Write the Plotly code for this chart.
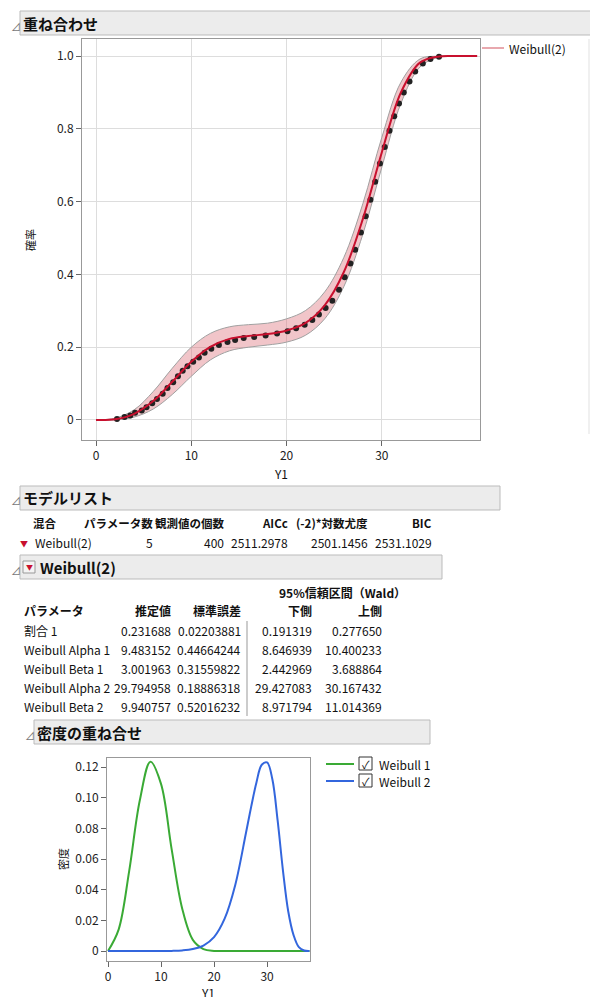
import plotly.graph_objects as go

W, H = 598, 997
JP = "Noto Sans CJK JP"

# --- data ---
cdf_x = [0, 2, 4, 6, 8, 10, 12, 14, 16, 18, 20, 22, 24, 26, 28, 30, 32, 34, 36, 38, 40]
cdf_y = [0, 0.002, 0.017, 0.052, 0.105, 0.160, 0.201, 0.223, 0.231, 0.236, 0.246, 0.267,
         0.315, 0.406, 0.552, 0.736, 0.900, 0.982, 0.999, 1.0, 1.0]
band_lo = [0, 0.0, 0.008, 0.030, 0.070, 0.120, 0.165, 0.190, 0.200, 0.206, 0.214, 0.233,
           0.278, 0.366, 0.510, 0.695, 0.870, 0.970, 0.997, 1.0, 1.0]
band_hi = [0, 0.005, 0.028, 0.078, 0.142, 0.200, 0.238, 0.256, 0.262, 0.266, 0.278, 0.301,
           0.352, 0.446, 0.594, 0.777, 0.928, 0.992, 1.0, 1.0, 1.0]
pts_x = [2.2, 3.0, 3.6, 4.1, 4.8, 5.3, 5.9, 6.4, 7.0, 7.5, 8.1, 8.6, 9.1, 9.6, 10.2, 10.8,
         11.4, 12.1, 12.9, 13.8, 14.6, 15.5, 16.6, 17.8, 19.0, 20.1, 21.0, 21.9, 22.7, 23.4,
         24.1, 24.8, 25.5, 26.1, 26.7, 27.2, 27.8, 28.3, 28.8, 29.3, 29.8, 30.3, 30.8, 31.3,
         31.8, 32.3, 32.9, 33.5, 34.3, 35.1, 36.0]
pts_y = [0.003, 0.008, 0.012, 0.020, 0.026, 0.035, 0.046, 0.058, 0.072, 0.088, 0.104, 0.120,
         0.135, 0.148, 0.160, 0.172, 0.185, 0.196, 0.206, 0.214, 0.220, 0.225, 0.228, 0.232,
         0.238, 0.244, 0.252, 0.262, 0.275, 0.290, 0.308, 0.328, 0.358, 0.392, 0.430, 0.468,
         0.515, 0.560, 0.605, 0.655, 0.705, 0.750, 0.795, 0.835, 0.870, 0.900, 0.930, 0.958,
         0.980, 0.992, 0.998]

dens_x = [0, 2, 4, 6, 8, 10, 12, 14, 16, 18, 20, 22, 24, 26, 27, 28, 29, 30, 31, 32, 33,
          34, 35, 36, 37, 38]
dens_w1 = [0, 0.0140, 0.0523, 0.0983, 0.1235, 0.109, 0.0665, 0.0276, 0.0073, 0.0013, 0.0001,
           0, 0, 0, 0, 0, 0, 0, 0, 0, 0, 0, 0, 0, 0, 0]
dens_w2 = [0, 0, 0, 0, 0, 0, 0.0001, 0.0004, 0.0013, 0.0036, 0.0091, 0.0211, 0.0431, 0.0767,
           0.094, 0.110, 0.1215, 0.123, 0.112, 0.085, 0.0525, 0.0258, 0.0104, 0.0025,
           0.0003, 0]

model_cols = ["混合", "パラメータ数", "観測値の個数", "AICc", "(-2)*対数尤度", "BIC"]
model_row = ["Weibull(2)", "5", "400", "2511.2978", "2501.1456", "2531.1029"]
param_cols = ["パラメータ", "推定値", "標準誤差", "下側", "上側"]
param_names = ["割合 1", "Weibull Alpha 1", "Weibull Beta 1", "Weibull Alpha 2", "Weibull Beta 2"]
est = ["0.231688", "9.483152", "3.001963", "29.794958", "9.940757"]
se = ["0.02203881", "0.44664244", "0.31559822", "0.18886318", "0.52016232"]
lower = ["0.191319", "8.646939", "2.442969", "29.427083", "8.971794"]
upper = ["0.277650", "10.400233", "3.688864", "30.167432", "11.014369"]


def px(x):
    return x / W


def py(y):
    return 1 - y / H


fig = go.Figure()

# top chart
fig.add_trace(go.Scatter(x=cdf_x, y=band_hi, mode="lines", line=dict(color="#a0a0a0", width=1, shape="spline"),
                         showlegend=False, hoverinfo="skip"))
fig.add_trace(go.Scatter(x=cdf_x, y=band_lo, mode="lines", fill="tonexty", fillcolor="rgba(220,110,120,0.4)",
                         line=dict(color="#a0a0a0", width=1, shape="spline"), showlegend=False, hoverinfo="skip"))
fig.add_trace(go.Scatter(x=pts_x, y=pts_y, mode="markers", marker=dict(color="#222", size=6),
                         showlegend=False))
fig.add_trace(go.Scatter(x=cdf_x, y=cdf_y, mode="lines", line=dict(color="#c8102e", width=2, shape="spline"),
                         showlegend=False))

# bottom chart
fig.add_trace(go.Scatter(x=dens_x, y=dens_w1, mode="lines", line=dict(color="#3aaa35", width=2, shape="spline"),
                         xaxis="x2", yaxis="y2", showlegend=False))
fig.add_trace(go.Scatter(x=dens_x, y=dens_w2, mode="lines", line=dict(color="#3366dd", width=2, shape="spline"),
                         xaxis="x2", yaxis="y2", showlegend=False))

axstyle = dict(showline=True, linecolor="#999", mirror=True, ticks="outside", tickcolor="#666",
               ticklen=5, zeroline=False, automargin=False,
               tickfont=dict(family=JP, size=12, color="#222"))
fig.update_layout(
    width=W, height=H, margin=dict(l=0, r=0, t=0, b=0, autoexpand=False),
    paper_bgcolor="white", plot_bgcolor="white",
    xaxis=dict(domain=[px(74), px(472)], range=[-1.47, 40.3], tickvals=[0, 10, 20, 30],
               showgrid=True, gridcolor="#ddd", anchor="y", **axstyle),
    yaxis=dict(domain=[py(432), py(31)], range=[-0.055, 1.047], tickvals=[0, 0.2, 0.4, 0.6, 0.8, 1.0],
               ticktext=["0", "0.2", "0.4", "0.6", "0.8", "1.0"], showgrid=True, gridcolor="#ddd",
               anchor="x", **axstyle),
    xaxis2=dict(domain=[px(99), px(302)], range=[-0.19, 38.1], tickvals=[0, 10, 20, 30],
                showgrid=False, anchor="y2", **axstyle),
    yaxis2=dict(domain=[py(953), py(750)], range=[-0.0065, 0.1259],
                tickvals=[0, 0.02, 0.04, 0.06, 0.08, 0.10, 0.12],
                ticktext=["0", "0.02", "0.04", "0.06", "0.08", "0.10", "0.12"],
                showgrid=False, anchor="x2", **axstyle),
)

shapes = []
ann = []


def text(x, y, s, size=12, bold=False, anchor="left", color="#111", angle=0):
    ann.append(dict(x=px(x), y=py(y), xref="paper", yref="paper", text=f"<b>{s}</b>" if bold else s,
                    showarrow=False, xanchor=anchor, yanchor="middle", textangle=angle,
                    font=dict(family=JP, size=size, color=color)))


def header(x0, y0, x1, y1, s, tri_x, tx=None):
    shapes.append(dict(type="rect", xref="paper", yref="paper", x0=px(x0), x1=px(x1), y0=py(y1), y1=py(y0),
                       fillcolor="#ececec", line=dict(color="#bbb", width=1)))
    text(tri_x, (y0 + y1) / 2 + 3, "⊿", size=10, color="#777")
    text(tx if tx else x0 + 1, (y0 + y1) / 2, s, size=15, bold=True)


header(12, 3, 596, 27, "重ね合わせ", 1)
header(12, 478, 492, 502, "モデルリスト", 1)
header(12, 547, 434, 571, "Weibull(2)", 1, tx=30)
header(26, 712, 422, 736, "密度の重ね合せ", 15)

# red dropdown button in Weibull(2) header
shapes.append(dict(type="rect", xref="paper", yref="paper", x0=px(15), x1=px(27), y0=py(565), y1=py(553),
                   fillcolor="#f4f4f4", line=dict(color="#999", width=1)))
text(21, 559, "▼", size=7, anchor="center", color="#c8102e")

# top legend + scrollbar
shapes.append(dict(type="line", xref="paper", yref="paper", x0=px(474), x1=px(496), y0=py(40), y1=py(40),
                   line=dict(color="#e8a8ae", width=2)))
text(499, 40, "Weibull(2)", size=12)
shapes.append(dict(type="rect", xref="paper", yref="paper", x0=px(580), x1=px(597), y0=py(426), y1=py(31),
                   fillcolor="#f0f0f0", line=dict(width=0)))
text(588, 38, "^", size=10, anchor="center", color="#bbb")

text(22, 232, "確率", size=11, anchor="center", angle=-90)
text(273, 466, "Y1", size=12, anchor="center")
text(55, 851, "密度", size=11, anchor="center", angle=-90)
text(200, 984, "Y1", size=12, anchor="center")

# model list table
mx = [23, 147, 218, 282, 362, 426]
for i, c in enumerate(model_cols):
    text(mx[i], 515, c, size=11.5, bold=True, anchor="left" if i == 0 else "right")
text(16, 535, "▼", size=8, anchor="center", color="#c8102e")
for i, v in enumerate(model_row):
    text(25 if i == 0 else mx[i], 534, v, size=12, anchor="left" if i == 0 else "right")

# parameter table
text(334, 584, "95%信頼区間（Wald）", size=12, bold=True, anchor="center")
cx = [14, 165, 235, 306, 376]
for i, c in enumerate(param_cols):
    text(cx[i], 602, c, size=12, bold=True, anchor="left" if i == 0 else "right")
rows_y = [622, 641, 660, 679, 698]
for j in range(len(param_names)):
    text(14, rows_y[j], param_names[j], size=12)
    for i, col in enumerate([est, se, lower, upper], start=1):
        text(cx[i], rows_y[j], col[j], size=12, anchor="right")
shapes.append(dict(type="line", xref="paper", yref="paper", x0=px(239), x1=px(239), y0=py(708), y1=py(613),
                   line=dict(color="#999", width=1)))

# density legend
for yy, col, name in [(756, "#3aaa35", "Weibull 1"), (773, "#3366dd", "Weibull 2")]:
    shapes.append(dict(type="line", xref="paper", yref="paper", x0=px(318), x1=px(346), y0=py(yy), y1=py(yy),
                       line=dict(color=col, width=2)))
    shapes.append(dict(type="rect", xref="paper", yref="paper", x0=px(351), x1=px(364), y0=py(yy + 6),
                       y1=py(yy - 7), fillcolor="white", line=dict(color="#333", width=1)))
    text(357.5, yy, "✓", size=11, anchor="center")
    text(369, yy, name, size=12)

fig.update_layout(shapes=shapes, annotations=ann)
fig.write_html("out.html")
